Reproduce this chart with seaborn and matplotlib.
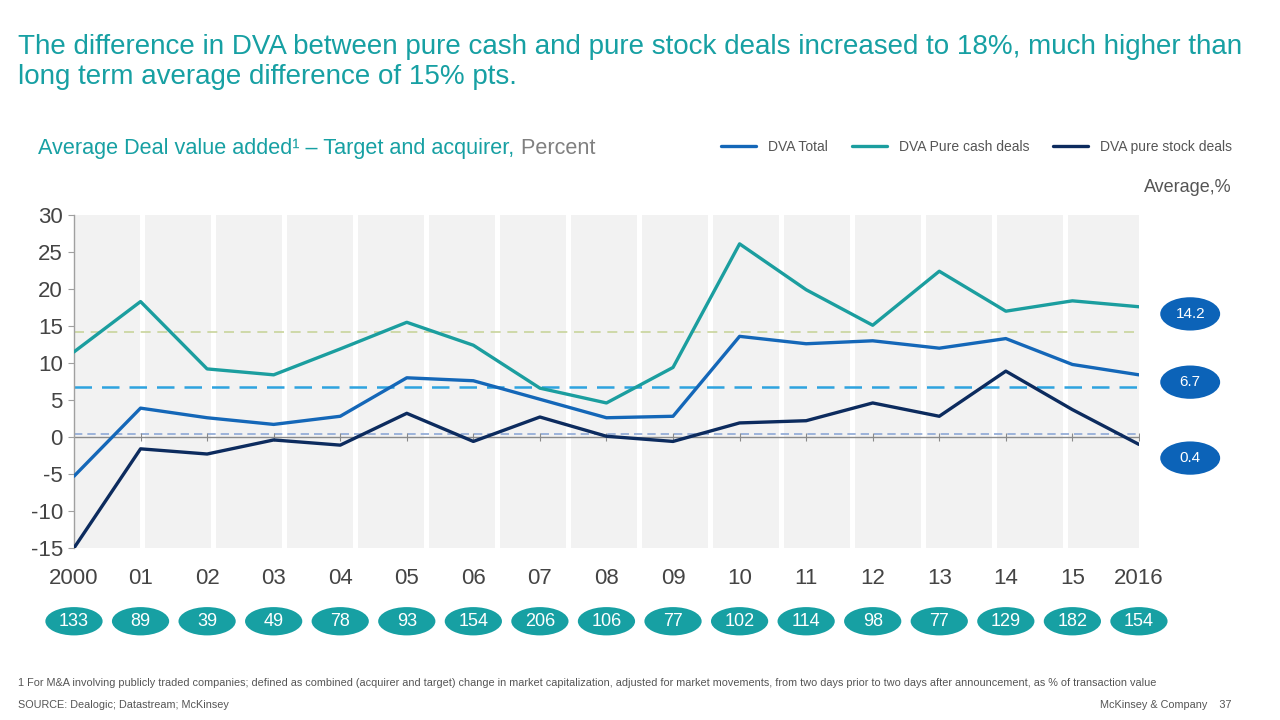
import pandas as pd
import matplotlib.pyplot as plt
import seaborn as sns
from matplotlib.patches import Ellipse
import matplotlib.transforms as mtransforms

# data

years = list(range(2000, 2017))
year_labels = ['2000', '01', '02', '03', '04', '05', '06', '07', '08',
               '09', '10', '11', '12', '13', '14', '15', '2016']

dva_total = [-5.3, 3.9, 2.6, 1.7, 2.8, 8.0, 7.6, 5.1, 2.6, 2.8,
             13.6, 12.6, 13.0, 12.0, 13.3, 9.8, 8.4]
dva_cash = [11.5, 18.3, 9.2, 8.4, 11.9, 15.5, 12.4, 6.6, 4.6, 9.4,
            26.1, 19.9, 15.1, 22.4, 17.0, 18.4, 17.6]
dva_stock = [-15.0, -1.6, -2.3, -0.4, -1.1, 3.2, -0.6, 2.7, 0.1, -0.6,
             1.9, 2.2, 4.6, 2.8, 8.9, 3.7, -1.0]

deal_counts = [133, 89, 39, 49, 78, 93, 154, 206, 106, 77,
               102, 114, 98, 77, 129, 182, 154]

avg_values = [14.2, 6.7, 0.4]

series_names = ['DVA Total', 'DVA Pure cash deals', 'DVA pure stock deals']

# colours
teal = '#17a0a3'
c_total = '#1467b8'
c_cash = '#1b9e9f'
c_stock = '#0c2b5e'
c_oval = '#0c63b8'
grey_txt = '#555555'

# long frame for seaborn
x_idx = list(range(len(years)))
df = pd.concat([
    pd.DataFrame({'x': x_idx, 'value': dva_total, 'series': series_names[0]}),
    pd.DataFrame({'x': x_idx, 'value': dva_cash, 'series': series_names[1]}),
    pd.DataFrame({'x': x_idx, 'value': dva_stock, 'series': series_names[2]}),
])

sns.set_style("white")
plt.rcParams['font.family'] = ['Liberation Sans', 'DejaVu Sans']

fig = plt.figure(figsize=(12.8, 7.2), dpi=100)
ax = fig.add_axes([0.0578, 0.2389, 0.8320, 0.4625])

n = len(years) - 1
ax.set_xlim(0, n)
ax.set_ylim(-15, 30)

# grey background columns (15 equal columns across the plot)
n_cols = 15
w = n / n_cols
gap = 0.075
for k in range(n_cols):
    right = (k + 1) * w - (gap if k < n_cols - 1 else 0)
    ax.axvspan(k * w, right, color='#f2f2f2', lw=0, zorder=0)

# average lines
ax.axhline(avg_values[0], color='#c9d49c', lw=1.2, ls=(0, (6, 4)), zorder=1)
ax.axhline(avg_values[1], color='#2ea3df', lw=1.8, ls=(0, (7, 4)), zorder=1)
ax.axhline(avg_values[2], color='#8ea8d6', lw=1.2, ls=(0, (5, 3)), zorder=1)

# zero line with small year ticks
ax.axhline(0, color='#8a8a8a', lw=1, zorder=1)
ax.plot(x_idx[1:], [0] * n, ls='none', marker='|', ms=6, mew=0.8,
        color='#8a8a8a', zorder=1)

sns.lineplot(data=df, x='x', y='value', hue='series', ax=ax,
             palette=[c_total, c_cash, c_stock], lw=2.4, zorder=3)

# axes styling
for s in ['top', 'right', 'bottom']:
    ax.spines[s].set_visible(False)
ax.spines['left'].set_color('#a0a0a0')
ax.spines['left'].set_linewidth(1)
ax.set_yticks(range(-15, 31, 5))
ax.set_yticklabels([str(v) for v in range(-15, 31, 5)])
ax.tick_params(axis='y', left=True, length=4, color='#a0a0a0',
               labelsize=16, labelcolor='#444444', pad=4)
ax.set_xticks(x_idx)
ax.set_xticklabels(year_labels)
ax.tick_params(axis='x', bottom=False, labelsize=16,
               labelcolor='#444444', pad=11)
ax.set_xlabel(None)
ax.set_ylabel(None)

# legend at top right
handles, labels = ax.get_legend_handles_labels()
ax.legend(handles, labels, loc='center right', ncol=3, frameon=False,
          bbox_to_anchor=(0.9625, 0.796), bbox_transform=fig.transFigure,
          borderpad=0, borderaxespad=0,
          fontsize=10, labelcolor=grey_txt, handlelength=2.5,
          handletextpad=0.85, columnspacing=1.75)

# deal count ovals under the x axis
trans = mtransforms.blended_transform_factory(ax.transData, ax.transAxes)
for i, c in enumerate(deal_counts):
    ax.add_patch(Ellipse((i, -0.22), 0.86, 0.085, transform=trans,
                         color=teal, clip_on=False, lw=0))
    ax.text(i, -0.22, str(c), transform=trans, ha='center', va='center',
            color='white', fontsize=13)

# average labels on the right
oval_y = [0.703, 0.498, 0.27]
for v, yy in zip(avg_values, oval_y):
    ax.add_patch(Ellipse((n + 0.77, yy), 0.9, 0.1, transform=trans,
                         color=c_oval, clip_on=False, lw=0))
    ax.text(n + 0.77, yy, f'{v}', transform=trans, ha='center',
            va='center', color='white', fontsize=11)

fig.text(0.9625, 0.74, 'Average,%', ha='right', va='center',
         fontsize=13, color=grey_txt)

# titles
fig.text(0.014, 0.953, 'The difference in DVA between pure cash and pure stock '
         'deals increased to 18%, much higher than\nlong term average '
         'difference of 15% pts.', ha='left', va='top', fontsize=20,
         color=teal, linespacing=1.2)

t1 = fig.text(0.03, 0.779, 'Average Deal value added\u00b9 \u2013 Target and acquirer,',
              ha='left', va='bottom', fontsize=15.6, color=teal)
ax.annotate(' Percent', xy=(1, 0), xycoords=t1, ha='left', va='bottom',
            fontsize=15.6, color='#808080')

# footnotes
fig.text(0.014, 0.051, '1 For M&A involving publicly traded companies; defined as '
         'combined (acquirer and target) change in market capitalization, '
         'adjusted for market movements, from two days prior to two days after '
         'announcement, as % of transaction value', ha='left', va='center',
         fontsize=7.8, color=grey_txt)
fig.text(0.014, 0.021, 'SOURCE: Dealogic; Datastream; McKinsey', ha='left',
         va='center', fontsize=7.8, color=grey_txt)
fig.text(0.9625, 0.021, 'McKinsey & Company    37', ha='right', va='center',
         fontsize=7.8, color=grey_txt)

plt.savefig('out.png', dpi=100)
